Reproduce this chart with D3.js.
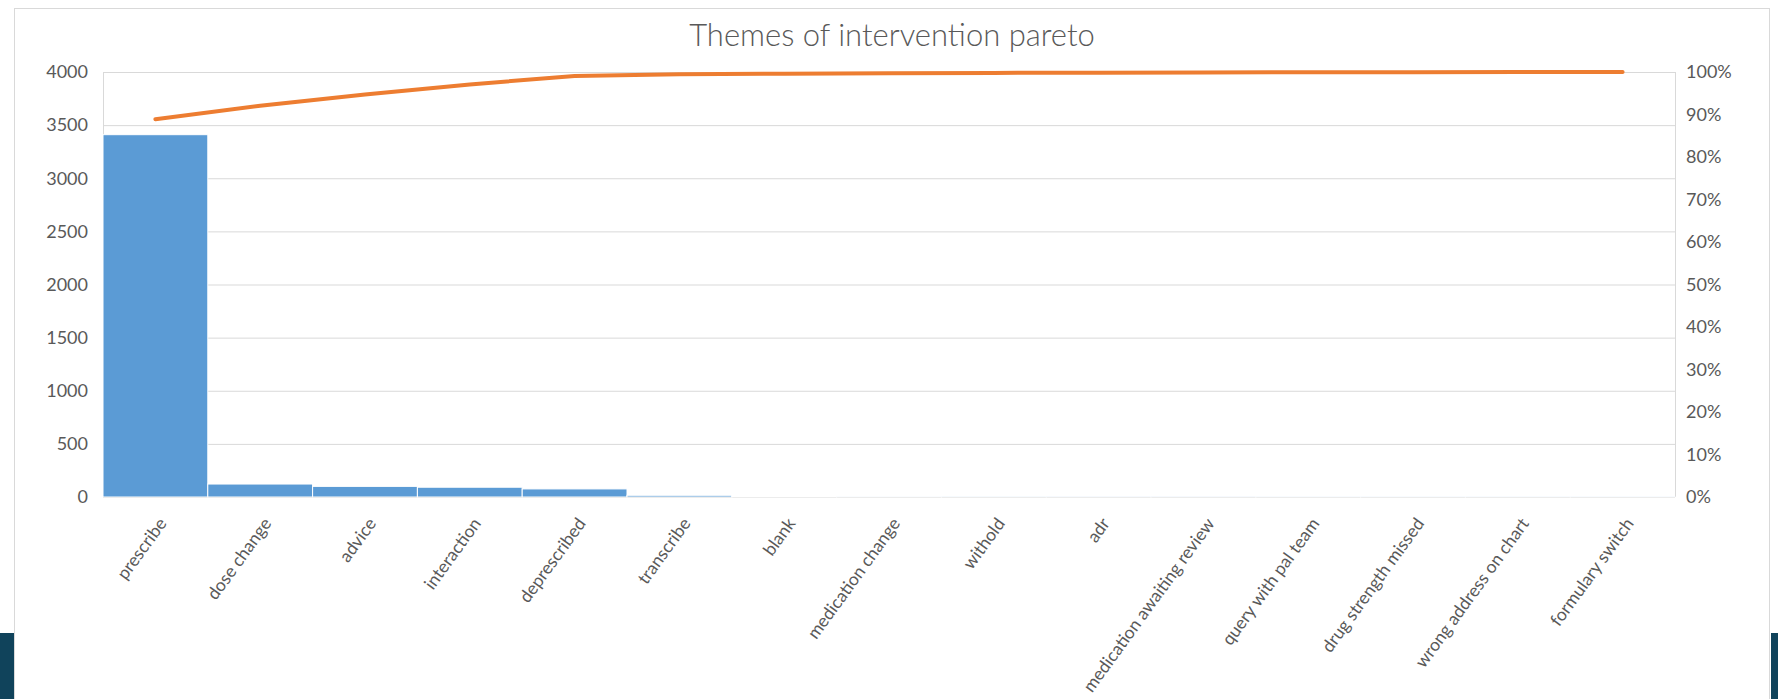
<!DOCTYPE html>
<html>
<head>
<meta charset="utf-8">
<script src="https://cdn.jsdelivr.net/npm/d3@7/dist/d3.min.js"></script>
<style>
  body { margin: 0; background: #fff; }
  svg text { font-family: Lato, "Open Sans", sans-serif; fill: #595959; }
</style>
</head>
<body>
<div id="chart"></div>
<script>
// Data
var categories = ["prescribe", "dose change", "advice", "interaction", "deprescribed", "transcribe",
  "blank", "medication change", "withold", "adr", "medication awaiting review",
  "query with pal team", "drug strength missed", "wrong address on chart", "formulary switch"];
var counts = [3410, 122, 100, 92, 76, 16, 5, 4, 3, 2, 2, 1, 1, 1, 1];
var countTicks = [0, 500, 1000, 1500, 2000, 2500, 3000, 3500, 4000];
var pctTicks = [0, 0.1, 0.2, 0.3, 0.4, 0.5, 0.6, 0.7, 0.8, 0.9, 1];
var chartTitle = "Themes of intervention pareto";

var width = 1778,
  height = 699;
var margin = {top: 72, right: 103, bottom: 202, left: 103};

// cumulative share for the pareto line
var total = d3.sum(counts);
var running = d3.cumsum(counts);
var paretoData = categories.map(function(c, i) {
  return {cat: c, pct: running[i] / total};
});
var barData = categories.map(function(c, i) {
  return {cat: c, value: counts[i]};
});

//Create SVG element
var svg = d3.select("#chart")
  .append("svg")
  .attr("width", width)
  .attr("height", height);

svg.append("rect")
  .attr("width", width)
  .attr("height", height)
  .attr("fill", "#fff");

// chart frame (runs off the bottom of the picture)
svg.append("rect")
  .attr("x", 14.5)
  .attr("y", 8.5)
  .attr("width", 1755)
  .attr("height", 800)
  .attr("fill", "#fff")
  .attr("stroke", "#d9d9d9");

// dark slide edges in the corners
svg.append("rect")
  .attr("x", 0).attr("y", 633)
  .attr("width", 14).attr("height", 66)
  .attr("fill", "#10435b");
svg.append("rect")
  .attr("x", 1771).attr("y", 633)
  .attr("width", 7).attr("height", 66)
  .attr("fill", "#10435b");

var xScale = d3.scaleBand()
  .domain(categories)
  .range([margin.left, width - margin.right])
  .padding(0);

var yScale = d3.scaleLinear()
  .domain([0, 4000])
  .range([height - margin.bottom, margin.top]);

var pctScale = d3.scaleLinear()
  .domain([0, 1])
  .range([height - margin.bottom, margin.top]);

// Render Y grid
svg.append("g")
  .attr("transform", `translate(${margin.left},0)`)
  .attr("class", "grid")
  .call(d3.axisLeft(yScale)
    .tickValues(countTicks)
    .tickSize(-(width - margin.left - margin.right))
    .tickFormat(""))
  .call(g => g.select(".domain").remove())
  .selectAll("line")
  .attr("stroke", "#d9d9d9");

// axis side lines
svg.append("line")
  .attr("x1", margin.left + 0.5).attr("x2", margin.left + 0.5)
  .attr("y1", margin.top).attr("y2", height - margin.bottom)
  .attr("stroke", "#d9d9d9");
svg.append("line")
  .attr("x1", width - margin.right + 0.5).attr("x2", width - margin.right + 0.5)
  .attr("y1", margin.top).attr("y2", height - margin.bottom)
  .attr("stroke", "#d9d9d9");

// Render bars
svg.append("g")
  .attr("class", "bars")
  .selectAll("rect")
  .data(barData)
  .enter()
  .append("rect")
  .attr("x", d => xScale(d.cat))
  .attr("width", xScale.bandwidth())
  .attr("y", d => yScale(d.value))
  .attr("height", d => yScale(0) - yScale(d.value))
  .attr("fill", "#5b9bd5")
  .attr("stroke", "#fff")
  .attr("stroke-width", 1);

// Render left axis
svg.append("g")
  .attr("transform", `translate(${margin.left},0)`)
  .attr("class", "y-axis")
  .call(d3.axisLeft(yScale).tickValues(countTicks).tickSize(0).tickPadding(15)
    .tickFormat(d3.format("d")))
  .call(g => g.select(".domain").remove())
  .selectAll("text")
  .style("font-size", "18px");

// Render right axis
svg.append("g")
  .attr("transform", `translate(${width - margin.right},0)`)
  .attr("class", "y2-axis")
  .call(d3.axisRight(pctScale).tickValues(pctTicks).tickSize(0).tickPadding(11)
    .tickFormat(d3.format(".0%")))
  .call(g => g.select(".domain").remove())
  .selectAll("text")
  .style("font-size", "18px");

// Render X axis labels
svg.append("g")
  .attr("transform", `translate(0,${height - margin.bottom})`)
  .attr("class", "x-axis")
  .call(d3.axisBottom(xScale).tickSize(0))
  .call(g => g.select(".domain").remove())
  .selectAll(".tick text")
  .attr("x", 0)
  .attr("y", 0)
  .attr("dy", "0.35em")
  .attr("transform", "translate(7,23) rotate(-54)")
  .style("text-anchor", "end")
  .style("font-size", "17.5px");

// Render pareto line
var paretoLine = d3.line()
  .x(d => xScale(d.cat) + xScale.bandwidth() / 2)
  .y(d => pctScale(d.pct));

svg.append("path")
  .datum(paretoData)
  .attr("class", "line pareto")
  .attr("d", paretoLine)
  .attr("fill", "none")
  .attr("stroke", "#ed7d31")
  .attr("stroke-width", 4)
  .attr("stroke-linecap", "round")
  .attr("stroke-linejoin", "round");

// Title
svg.append("text")
  .attr("x", 892)
  .attr("y", 46)
  .attr("text-anchor", "middle")
  .style("font-size", "31px")
  .style("font-weight", 300)
  .text(chartTitle);
</script>
</body>
</html>
